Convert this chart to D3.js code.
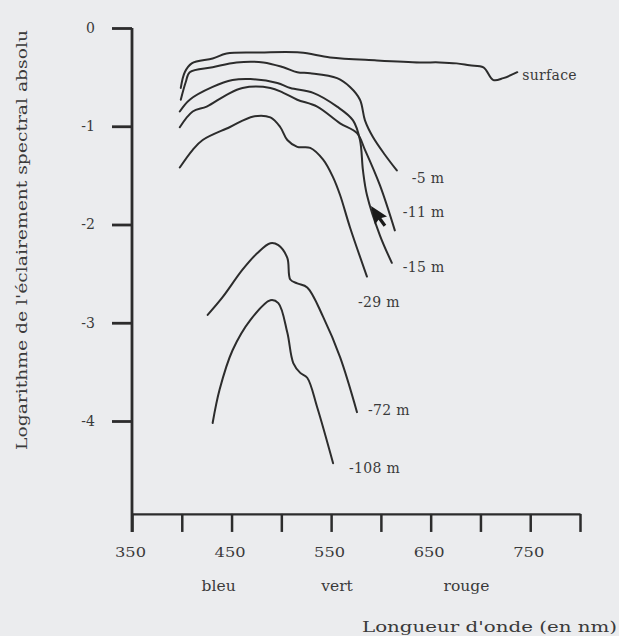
<!DOCTYPE html>
<html><head><meta charset="utf-8">
<script src="https://cdn.jsdelivr.net/npm/d3@7"></script>
<style>
html,body{margin:0;padding:0;background:#ebecee;}
svg{display:block;}
text{font-family:"DejaVu Serif","Liberation Serif",serif;fill:#3a3a3a;}
</style></head>
<body><svg id="c" width="619" height="636"></svg>
<script>
// ---- data (wavelength nm, log10 spectral irradiance) ----
const seriesNames = ["surface", "-5 m", "-11 m", "-15 m", "-29 m", "-72 m", "-108 m"];
const surface = [[399,-0.61],[403,-0.45],[410,-0.36],[431,-0.31],[445,-0.26],[479,-0.25],[519,-0.25],[549,-0.30],[596,-0.33],[639,-0.35],[659,-0.35],[676,-0.36],[689,-0.38],[703,-0.40],[713,-0.53],[723,-0.51],[737,-0.45]];
const m5 = [[399,-0.73],[404,-0.55],[408,-0.45],[431,-0.40],[455,-0.35],[482,-0.35],[502,-0.40],[516,-0.45],[529,-0.46],[556,-0.51],[569,-0.60],[579,-0.73],[584,-0.94],[592,-1.11],[604,-1.29],[616,-1.45]];
const m11 = [[398,-1.01],[411,-0.85],[425,-0.80],[445,-0.68],[461,-0.61],[489,-0.61],[502,-0.66],[516,-0.73],[536,-0.80],[559,-0.97],[576,-1.07],[584,-1.24],[599,-1.60],[614,-2.06]];
const m15 = [[398,-0.85],[408,-0.73],[431,-0.60],[451,-0.53],[469,-0.52],[496,-0.56],[509,-0.61],[532,-0.66],[556,-0.80],[572,-0.94],[579,-1.14],[582,-1.45],[586,-1.70],[599,-2.11],[611,-2.39]];
const m29 = [[398,-1.42],[411,-1.24],[421,-1.14],[448,-1.01],[472,-0.90],[489,-0.91],[499,-1.01],[506,-1.14],[516,-1.21],[529,-1.22],[542,-1.34],[552,-1.52],[559,-1.70],[569,-2.03],[586,-2.53]];
const m72 = [[426,-2.92],[441,-2.74],[461,-2.46],[476,-2.29],[489,-2.19],[497,-2.21],[506,-2.34],[509,-2.56],[516,-2.60],[526,-2.64],[542,-2.94],[559,-3.35],[576,-3.91]];
const m108 = [[431,-4.02],[438,-3.68],[451,-3.28],[469,-2.97],[489,-2.77],[497,-2.80],[506,-3.10],[512,-3.41],[519,-3.51],[526,-3.56],[536,-3.86],[552,-4.43]];
const seriesValues = [surface, m5, m11, m15, m29, m72, m108];
const xTicks = [350,400,450,500,550,600,650,700,750,800];
const xTickLabels = [350,450,550,650,750];
const yTicks = [0,-1,-2,-3,-4];
const colourBands = ["bleu","vert","rouge"];
const colourBandCentres = [437,556,686];

// ---- layout ----
const svg = d3.select("#c");
const x = d3.scaleLinear().domain([350,800]).range([132,580]);
const y = d3.scaleLinear().domain([0,-4]).range([28,421]);
const yAxisBottom = -4.946;
const ink = "#2c2c2c";
const serif = "DejaVu Serif";

// x axis
const gx = svg.append("g").attr("transform",`translate(0,${y(yAxisBottom)})`)
  .call(d3.axisBottom(x).tickValues(xTicks).tickSize(18).tickSizeOuter(0)
    .tickFormat(d => xTickLabels.includes(d) ? String(d) : ""));
gx.select(".domain").attr("stroke",ink).attr("stroke-width",2.2);
gx.selectAll(".tick line").attr("stroke",ink).attr("stroke-width",2.5);
gx.selectAll(".tick text").attr("y",38).attr("dy","0.35em").attr("dx","-2")
  .attr("font-size",13.5).attr("font-family",serif).attr("fill","#3a3a3a")
  .attr("textLength",31).attr("lengthAdjust","spacingAndGlyphs");

// y axis
const gy = svg.append("g").attr("transform",`translate(${x(350)},0)`)
  .call(d3.axisLeft(y).tickValues(yTicks).tickSize(20).tickPadding(17).tickSizeOuter(0)
    .tickFormat(d => String(d)));
gy.select(".domain").remove();
gy.append("line").attr("x1",0).attr("x2",0).attr("y1",y(0)).attr("y2",y(yAxisBottom)+18)
  .attr("stroke",ink).attr("stroke-width",2.8);
gy.selectAll(".tick line").attr("stroke",ink).attr("stroke-width",2.8);
gy.selectAll(".tick text").attr("font-size",14).attr("font-family",serif).attr("fill","#3a3a3a");

// colour band names
svg.selectAll("text.band").data(colourBands).join("text").attr("class","band")
  .attr("x",(d,i)=>x(colourBandCentres[i])).attr("y",586).attr("dy","0.35em")
  .attr("text-anchor","middle").attr("font-size",15.5).text(d=>d);

// axis titles
svg.append("text").attr("x",362).attr("y",627).attr("dy","0.35em")
  .attr("font-size",15).attr("textLength",255).attr("lengthAdjust","spacingAndGlyphs")
  .text("Longueur d'onde (en nm)");
svg.append("text").attr("transform","translate(22,240) rotate(-90)")
  .attr("text-anchor","middle").attr("dy","0.35em")
  .attr("font-size",14.5).attr("textLength",420).attr("lengthAdjust","spacingAndGlyphs")
  .text("Logarithme de l'éclairement spectral absolu");

// curves
const line = d3.line().x(d=>x(d[0])).y(d=>y(d[1])).curve(d3.curveCatmullRom.alpha(0.5));
svg.selectAll("path.curve").data(seriesValues).join("path").attr("class","curve")
  .attr("d",line).attr("fill","none").attr("stroke",ink).attr("stroke-width",2)
  .attr("stroke-linejoin","round").attr("stroke-linecap","round");

// curve labels at series ends
const labelOffsets = [[5,3],[15,8],[8,-18],[11,4],[-9,26],[11,-2],[16,5]];
svg.selectAll("text.lab").data(seriesNames).join("text").attr("class","lab")
  .attr("x",(d,i)=>x(seriesValues[i][seriesValues[i].length-1][0])+labelOffsets[i][0])
  .attr("y",(d,i)=>y(seriesValues[i][seriesValues[i].length-1][1])+labelOffsets[i][1])
  .attr("dy","0.35em").attr("font-size",14).attr("font-family",serif)
  .attr("letter-spacing",0.3).text(d=>d);

// mouse pointer visible in the scanned figure
const px = 371, py = 206;
svg.append("path").attr("transform",`translate(${px},${py}) rotate(-12)`)
  .attr("d","M0,0 L0,19 L4.5,15 L8,23 L11,21.6 L7.6,14 L13.5,13.5 Z")
  .attr("fill","#1a1a1a");
</script></body></html>
